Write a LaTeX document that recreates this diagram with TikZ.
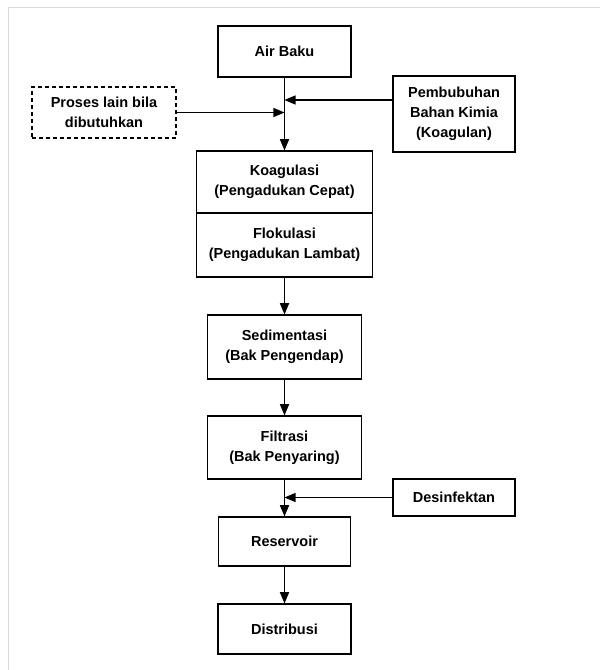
\documentclass[tikz,border=0pt]{standalone}
\usepackage{fontspec}
\setmainfont{Liberation Sans}
\usetikzlibrary{shapes,arrows,positioning}

\begin{document}
\begin{tikzpicture}[node distance = 100pt, auto,
	box/.style	= {draw, line width=1.3pt, align=center, inner sep=2pt, font=\bfseries\fontsize{14.5}{20}\selectfont},
	flow/.style	= {line width=1.6pt, -triangle 45}]
\useasboundingbox (0,0) rectangle (600pt,-670pt);
\draw[black!15, line width=1pt] (8pt,-670pt) -- (8pt,-7pt) -- (600pt,-7pt);

\node[box, minimum width=133pt, minimum height=51pt]								(airbaku)		at (284.5pt,-51.5pt)	{Air Baku};
\node[box, node distance=130.5pt, minimum width=176pt, minimum height=62pt]	(koagulasi)	[below of = airbaku]		{Koagulasi\\(Pengadukan Cepat)};
\node[box, node distance=63pt, minimum width=176pt, minimum height=64pt]		(flokulasi)	[below of = koagulasi]	{Flokulasi\\(Pengadukan Lambat)};
\node[box, node distance=102pt, minimum width=154pt, minimum height=64pt]		(sedimentasi)	[below of = flokulasi]	{Sedimentasi\\(Bak Pengendap)};
\node[box, node distance=100.5pt, minimum width=154pt, minimum height=63pt]	(filtrasi)		[below of = sedimentasi]	{Filtrasi\\(Bak Penyaring)};
\node[box, node distance=94pt, minimum width=132pt, minimum height=49pt]		(reservoir)	[below of = filtrasi]		{Reservoir};
\node[box, node distance=87.5pt, minimum width=133pt, minimum height=50pt]		(distribusi)	[below of = reservoir]	{Distribusi};
\node[box, dashed, dash pattern=on 4pt off 3pt, minimum width=144pt, minimum height=51pt]	(proses)	at (104pt,-112.5pt)	{Proses lain bila\\dibutuhkan};
\node[box, minimum width=122pt, minimum height=76pt]							(kimia)		at (454pt,-114pt)		{Pembubuhan\\Bahan Kimia\\(Koagulan)};
\node[box, minimum width=122pt, minimum height=37pt]							(desinfektan)	at (454pt,-497.5pt)	{Desinfektan};

\coordinate (inkimia)		at (airbaku.south |- 0,-100pt);
\coordinate (inproses)		at (airbaku.south |- proses.east);
\coordinate (indesinfektan)	at (filtrasi.south |- desinfektan.west);

\draw[flow]	(airbaku)			--	(koagulasi);
\draw[flow]	(kimia.west |- inkimia)	--	(inkimia);
\draw[flow]	(proses)			--	(inproses);
\draw[flow]	(flokulasi)		--	(sedimentasi);
\draw[flow]	(sedimentasi)		--	(filtrasi);
\draw[flow]	(filtrasi)			--	(reservoir);
\draw[flow]	(desinfektan)		--	(indesinfektan);
\draw[flow]	(reservoir)		--	(distribusi);
\end{tikzpicture}
\end{document}
